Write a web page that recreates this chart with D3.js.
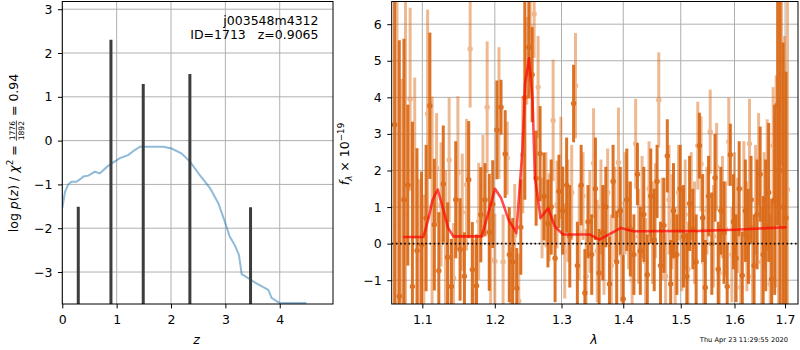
<!DOCTYPE html>
<html><head><meta charset="utf-8">
<script src="https://cdn.jsdelivr.net/npm/d3@7"></script>
<style>body{margin:0;background:#fff} svg{display:block} text{font-family:"DejaVu Sans",sans-serif}</style>
</head><body><svg id="c" width="800" height="350"></svg>
<script>
// ---------------- data ----------------
const zTicks = [0, 1, 2, 3, 4];
const lnpTicks = [-3, -2, -1, 0, 1, 2, 3];
const lamTicks = [1.1, 1.2, 1.3, 1.4, 1.5, 1.6, 1.7];
const fluxTicks = [-1, 0, 1, 2, 3, 4, 5, 6];

// chi2 curve (blue)
const pzZ = [0, 0.05, 0.11, 0.17, 0.26, 0.33, 0.39, 0.48, 0.60, 0.69, 0.82, 0.91, 1.06, 1.21, 1.34, 1.43, 1.61, 1.86, 2.01, 2.19, 2.35, 2.53, 2.72, 2.87, 2.99, 3.08, 3.17, 3.25, 3.30, 3.42, 3.57, 3.69, 3.79, 3.85, 4.00, 4.49];
const pzVal = [-1.54, -1.17, -1.0, -0.94, -0.94, -0.88, -0.82, -0.80, -0.71, -0.75, -0.60, -0.52, -0.40, -0.33, -0.21, -0.14, -0.14, -0.14, -0.18, -0.29, -0.48, -0.79, -1.09, -1.43, -1.85, -2.19, -2.38, -2.61, -3.05, -3.14, -3.26, -3.34, -3.41, -3.59, -3.71, -3.71];

// log p(z) peaks (black spikes)
const peakZ = [0.294, 0.895, 1.489, 2.347, 3.463];
const peakLogP = [-1.51, 2.30, 1.29, 1.52, -1.52];

// spectrum, series A (dark)
const aLam = [1.064,1.070,1.076,1.081,1.087,1.093,1.099,1.105,1.110,1.116,
1.122,1.128,1.134,1.139,1.145,1.151,1.157,1.163,1.168,1.174,
1.180,1.186,1.192,1.197,1.203,1.209,1.215,1.221,1.226,1.232,
1.238,1.244,1.250,1.255,1.261,1.267,1.273,1.279,1.284,1.290,
1.296,1.302,1.308,1.313,1.319,1.325,1.331,1.337,1.342,1.348,
1.354,1.360,1.366,1.371,1.377,1.383,1.389,1.395,1.400,1.406,
1.412,1.418,1.424,1.429,1.435,1.441,1.447,1.453,1.458,1.464,
1.470,1.476,1.482,1.487,1.493,1.499,1.505,1.511,1.516,1.522,
1.528,1.534,1.540,1.545,1.551,1.557,1.563,1.569,1.574,1.580,
1.586,1.592,1.598,1.603,1.609,1.615,1.621,1.627,1.632,1.638,
1.644,1.650,1.656,1.661,1.667,1.673,1.679,1.685,1.690,1.696,
1.702];
const aFlux = [3.25,-1.44,1.2,1.6,-1.17,-0.19,-0.03,0.70,3.77,0.52,
-0.74,1.63,-0.37,-1.17,1.2,-0.16,-0.89,1.75,-0.71,-1.15,
0.79,1.2,0.31,1.08,3.11,3.73,2.45,-0.3,-0.5,-1.22,
0.45,4.0,5.37,4.62,1.79,2.46,1.29,0.55,1.0,-0.4,
1.43,0.9,1.6,0.2,3.83,-0.6,1.6,-1.35,0.6,-0.3,
1.5,-0.8,0.3,1.0,-1.1,1.7,-0.5,0.9,-1.51,1.2,
0.4,-0.3,1.9,-0.2,0.8,-0.85,1.3,0.1,1.7,-0.6,
0.5,2.4,-1.1,0.9,-0.3,1.5,0.2,-0.9,1.1,0.4,
-0.5,2.68,0.7,-1.2,1.3,0.0,1.8,-0.7,0.9,0.3,
-1.17,2.43,0.6,-0.4,1.5,-0.87,0.9,0.2,1.2,-0.6,
0.8,1.9,-0.3,0.5,1.4,-0.97,1.2,3.8,2.0,1.0,
0.7];
const aErr = [6.0,7.0,4.4,2.2,4.5,2.8,2.0,2.0,2.0,1.8,
1.6,1.6,1.5,1.3,1.6,1.4,1.2,1.6,1.3,1.4,
1.3,1.0,1.6,1.2,1.35,0.75,1.2,1.3,1.2,1.1,
1.3,2.8,1.4,1.3,1.3,1.3,1.2,1.2,1.3,1.2,
1.0,1.2,1.3,1.4,1.06,1.2,1.1,1.2,1.0,1.1,
1.4,1.2,1.3,1.1,1.3,1.0,1.4,1.2,1.2,1.4,
1.3,1.1,0.85,1.2,1.3,1.1,1.3,1.4,1.0,1.2,
1.3,1.0,1.2,1.3,1.1,1.2,1.4,1.2,1.3,1.1,
1.3,0.9,1.2,1.3,1.1,1.4,1.2,1.3,1.2,1.4,
1.2,0.85,1.3,1.2,1.3,1.2,1.4,1.3,1.2,1.4,
1.5,1.3,1.6,1.8,1.9,2.2,2.6,3.3,5.0,4.5,
4.0];

// spectrum, series B (light)
const bLam = [1.067,1.073,1.078,1.084,1.090,1.096,1.102,1.107,1.113,1.119,
1.125,1.131,1.136,1.142,1.148,1.154,1.160,1.165,1.171,1.177,
1.183,1.189,1.194,1.200,1.206,1.212,1.218,1.223,1.229,1.235,
1.241,1.247,1.252,1.258,1.264,1.270,1.276,1.281,1.287,1.293,
1.299,1.305,1.310,1.316,1.322,1.328,1.334,1.339,1.345,1.351,
1.357,1.363,1.368,1.374,1.380,1.386,1.392,1.397,1.403,1.409,
1.415,1.421,1.426,1.432,1.438,1.444,1.450,1.455,1.461,1.467,
1.473,1.479,1.484,1.490,1.496,1.502,1.508,1.513,1.519,1.525,
1.531,1.537,1.542,1.548,1.554,1.560,1.566,1.571,1.577,1.583,
1.589,1.595,1.600,1.606,1.612,1.618,1.624,1.629,1.635,1.641,
1.647,1.653,1.658,1.664,1.670,1.676,1.682,1.687,1.693,1.699,
1.705];
const bFlux = [0.5,-1.5,0.8,3.95,2.34,-0.44,-0.56,3.55,1.02,2.07,
1.07,0.11,2.29,-0.94,1.93,0.86,1.61,5.32,-1.39,0.61,
1.57,3.73,-0.44,-0.48,3.57,-0.5,2.34,-1.3,0.23,-1.57,
2.43,5.0,5.94,6.28,4.28,0.7,1.2,0.72,3.37,1.07,
2.07,-0.2,0.9,1.4,4.32,0.3,1.3,-0.9,0.6,2.2,
-0.2,1.0,0.1,1.4,-0.6,0.8,2.22,-0.3,1.1,0.5,
-1.0,2.73,0.2,1.0,-0.5,1.5,0.3,0.9,3.93,0.4,
-0.9,1.2,0.6,-0.4,1.4,0.1,0.8,-0.7,1.3,0.3,
2.68,2.18,-0.5,0.9,3.06,0.2,2.1,-0.8,1.0,0.4,
2.79,-0.3,1.1,0.5,-1.2,1.5,0.2,2.73,-0.9,1.2,
2.31,-0.5,0.9,1.6,-1.1,2.68,1.7,0.5,4.64,0.68,
1.48];
const bErr = [8,6,6,2.5,2.2,2.2,1.9,2.85,3.0,1.5,
1.7,1.9,1.7,1.5,2.1,1.6,1.8,1.6,1.5,1.6,
1.4,1.8,1.4,1.3,1.8,1.3,1.0,1.2,1.4,1.3,
1.6,1.2,1.3,1.2,1.4,1.1,1.3,1.2,1.66,1.2,
1.4,1.3,1.4,1.3,1.44,1.3,1.2,1.3,1.4,1.5,
1.4,1.3,1.5,1.2,1.4,1.3,1.5,1.3,1.4,1.2,
1.4,1.23,1.3,1.4,1.2,1.3,1.4,1.3,1.3,1.4,
1.2,1.5,1.3,1.4,1.3,1.4,1.5,1.3,1.2,1.4,
1.2,1.3,1.3,1.2,1.15,1.4,1.2,1.3,1.4,1.3,
1.2,1.3,1.4,1.3,1.4,1.3,1.5,1.23,1.4,1.5,
1.26,1.5,1.6,1.8,1.9,1.6,2.9,3.5,2.5,5.0,
6.0];

// model (red)
const modelLam = [1.075, 1.1013, 1.1079, 1.1137, 1.1205, 1.1281, 1.1346, 1.1417, 1.1813, 1.1894, 1.2003, 1.2090, 1.2200, 1.2288, 1.2314, 1.2401, 1.2445, 1.2503, 1.2556, 1.2591, 1.2677, 1.2792, 1.2897, 1.3024, 1.3449, 1.3604, 1.3963, 1.4160, 1.5347, 1.6000, 1.7029];
const modelFlux = [0.18, 0.18, 0.66, 1.20, 1.48, 0.93, 0.43, 0.20, 0.20, 0.75, 1.50, 1.25, 0.65, 0.38, 0.29, 2.48, 4.39, 5.07, 3.93, 1.84, 0.70, 0.97, 0.47, 0.25, 0.25, 0.11, 0.43, 0.34, 0.35, 0.38, 0.45];

const titleLines = ["j003548m4312", "ID=1713   z=0.9065"];
const dateText = "Thu Apr 23 11:29:55 2020";

// ---------------- drawing ----------------
const svg = d3.select("#c");
const FS = 12.5;
const gridC = "#b0b0b0";
const orange = "#d9640f";

function frameAndGrid(P, xs, ys, xt, yt) {
  const g = svg.append("g");
  g.selectAll(".gx").data(xt).join("line")
    .attr("x1", d => xs(d)).attr("x2", d => xs(d))
    .attr("y1", P.y0).attr("y2", P.y1)
    .attr("stroke", gridC).attr("stroke-width", 1);
  g.selectAll(".gy").data(yt).join("line")
    .attr("class", "gy")
    .attr("x1", P.x0).attr("x2", P.x1)
    .attr("y1", d => ys(d)).attr("y2", d => ys(d))
    .attr("stroke", gridC).attr("stroke-width", 1);
}
function axes(P, xs, ys, xt, yt, xf, yf) {
  const ax = svg.append("g").attr("transform", `translate(0,${P.y1})`)
    .call(d3.axisBottom(xs).tickValues(xt).tickFormat(xf).tickSize(4.4).tickPadding(6.5));
  const ay = svg.append("g").attr("transform", `translate(${P.x0},0)`)
    .call(d3.axisLeft(ys).tickValues(yt).tickFormat(yf).tickSize(4.4).tickPadding(5.5));
  [ax, ay].forEach(a => {
    a.select(".domain").remove();
    a.selectAll("text").style("font-size", FS + "px").style("font-family", "DejaVu Sans").attr("fill", "#000");
    a.selectAll("line").attr("stroke", "#000");
  });
  svg.append("rect").attr("x", P.x0).attr("y", P.y0)
    .attr("width", P.x1 - P.x0).attr("height", P.y1 - P.y0)
    .attr("fill", "none").attr("stroke", "#000").attr("stroke-width", 1);
}
function clip(id, P) {
  svg.append("clipPath").attr("id", id).append("rect")
    .attr("x", P.x0).attr("y", P.y0).attr("width", P.x1 - P.x0).attr("height", P.y1 - P.y0);
}

// ---- left panel ----
const L = {x0: 62.3, x1: 333, y0: 1.5, y1: 304};
const xz = d3.scaleLinear().domain([0, 4.98]).range([L.x0, L.x1]);
const yz = d3.scaleLinear().domain([-3.73, 3.176]).range([L.y1, L.y0]);
clip("clipL", L);
frameAndGrid(L, xz, yz, zTicks, lnpTicks);
const gl = svg.append("g").attr("clip-path", "url(#clipL)");
gl.append("path")
  .datum(pzZ.map((z, i) => [z, pzVal[i]]))
  .attr("d", d3.line().x(d => xz(d[0])).y(d => yz(d[1])))
  .attr("fill", "none").attr("stroke", "#1f77b4").attr("stroke-opacity", 0.5).attr("stroke-width", 2);
gl.selectAll(".spk").data(peakZ.map((z, i) => [z, peakLogP[i]])).join("line")
  .attr("x1", d => xz(d[0])).attr("x2", d => xz(d[0]))
  .attr("y1", L.y1 + 2).attr("y2", d => yz(d[1]))
  .attr("stroke", "#3d3d3d").attr("stroke-width", 3);
axes(L, xz, yz, zTicks, lnpTicks, d3.format("d"), d3.format("d"));

svg.append("g").selectAll("text").data(titleLines).join("text")
  .attr("x", 318.5).attr("y", (d, i) => 25 + i * 14.3)
  .attr("text-anchor", "end").style("font-size", FS + "px").style("white-space", "pre")
  .text(d => d);

// x label z
svg.append("text").attr("x", 196.5).attr("y", 343.5).attr("text-anchor", "middle")
  .style("font-size", FS + "px").style("font-style", "italic").text("z");

// y labels with math
function mathLabel(pieces, cxScreen, cyScreen) {
  const g = svg.append("g");
  let cx = 0;
  pieces.forEach(p => {
    if (p.frac) {
      const fs = p.size;
      const n = g.append("text").style("font-size", fs + "px").attr("y", -2.8).text(p.frac[0]);
      const d = g.append("text").style("font-size", fs + "px").attr("y", 5.6).text(p.frac[1]);
      const w = Math.max(n.node().getComputedTextLength(), d.node().getComputedTextLength()) + 2;
      n.attr("x", cx + w / 2).attr("text-anchor", "middle");
      d.attr("x", cx + w / 2).attr("text-anchor", "middle");
      g.append("line").attr("x1", cx + 0.5).attr("x2", cx + w - 0.5).attr("y1", -1.6).attr("y2", -1.6)
        .attr("stroke", "#000").attr("stroke-width", 0.7);
      cx += w;
    } else {
      const t = g.append("text").attr("x", cx).attr("y", p.y || 0)
        .style("font-size", (p.size || FS) + "px").style("white-space", "pre")
        .style("font-style", p.it ? "italic" : "normal").text(p.t);
      cx += t.node().getComputedTextLength();
    }
  });
  g.attr("transform", `translate(${cxScreen},${cyScreen + cx / 2}) rotate(-90)`);
}
mathLabel([
  {t: "log "}, {t: "p", it: true}, {t: "("}, {t: "z", it: true}, {t: ") / "},
  {t: "χ", it: true}, {t: "2", size: 8.75, y: -5}, {t: " = "},
  {frac: ["1776", "1892"], size: 7.6}, {t: " = 0.94"}
], 18, 153);

// ---- right panel ----
const R = {x0: 391.7, x1: 798, y0: 1.5, y1: 304};
const xl = d3.scaleLog().domain([1.0603, 1.7267]).range([R.x0, R.x1]);
const yf = d3.scaleLinear().domain([-1.65, 6.62]).range([R.y1, R.y0]);
clip("clipR", R);
frameAndGrid(R, xl, yf, lamTicks, fluxTicks);
const gr = svg.append("g").attr("clip-path", "url(#clipR)");

function spectrum(lam, flux, err, op) {
  const pts = lam.map((l, i) => ({l, f: flux[i], e: err[i]})).filter(d => d.f !== undefined && d.e !== undefined);
  const g = gr.append("g").attr("opacity", op);
  g.selectAll("line").data(pts).join("line")
    .attr("x1", d => xl(d.l)).attr("x2", d => xl(d.l))
    .attr("y1", d => yf(d.f - d.e)).attr("y2", d => yf(d.f + d.e))
    .attr("stroke", orange).attr("stroke-width", 3);
  g.selectAll("circle").data(pts).join("circle")
    .attr("cx", d => xl(d.l)).attr("cy", d => yf(d.f)).attr("r", 2.7)
    .attr("fill", orange);
}
spectrum(bLam, bFlux, bErr, 0.45);
spectrum(aLam, aFlux, aErr, 0.9);

gr.append("path")
  .datum(modelLam.map((l, i) => [l, modelFlux[i]]))
  .attr("d", d3.line().x(d => xl(d[0])).y(d => yf(d[1])))
  .attr("fill", "none").attr("stroke", "red").attr("stroke-opacity", 0.7).attr("stroke-width", 2.6)
  .attr("stroke-linejoin", "round");

gr.append("line").attr("x1", R.x0).attr("x2", R.x1)
  .attr("y1", yf(0)).attr("y2", yf(0))
  .attr("stroke", "#000").attr("stroke-width", 1.6).attr("stroke-dasharray", "1.6,2.6");

axes(R, xl, yf, lamTicks, fluxTicks, d3.format(".1f"), d3.format("d"));

svg.append("text").attr("x", 594).attr("y", 344).attr("text-anchor", "middle")
  .style("font-size", FS + "px").style("font-style", "italic").text("λ");

mathLabel([
  {t: "f", it: true}, {t: "λ", size: 8.75, y: 3, it: true}, {t: " × 10"}, {t: "−19", size: 8.75, y: -5}
], 349, 154);

svg.append("text").attr("x", 788).attr("y", 342).attr("text-anchor", "end")
  .style("font-size", "6.7px").text(dateText);
</script></body></html>
